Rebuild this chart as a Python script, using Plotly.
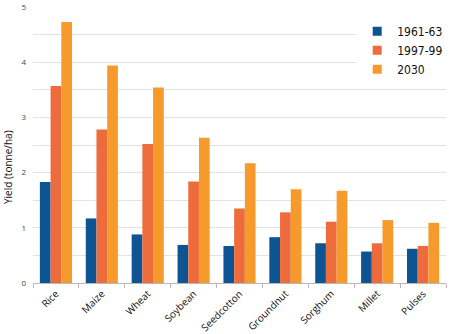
import plotly.graph_objects as go

categories = ["Rice", "Maize", "Wheat", "Soybean", "Seedcotton", "Groundnut", "Sorghum", "Millet", "Pulses"]
series_names = ["1961-63", "1997-99", "2030"]
y1961 = [1.83, 1.17, 0.88, 0.69, 0.67, 0.83, 0.72, 0.57, 0.62]
y1997 = [3.57, 2.78, 2.52, 1.84, 1.35, 1.28, 1.11, 0.72, 0.67]
y2030 = [4.73, 3.94, 3.54, 2.63, 2.17, 1.70, 1.67, 1.14, 1.09]
colors = ["#0D5592", "#EE6B3B", "#F69A2C"]
y_ticks = [0, 1, 2, 3, 4, 5]

fig = go.Figure()
for name, vals, col in zip(series_names, [y1961, y1997, y2030], colors):
    fig.add_trace(go.Bar(x=categories, y=vals, name=name, marker_color=col,
                         marker_line_width=0, showlegend=False, legendgroup=name))
# legend entries with small square swatches
for name, col in zip(series_names, colors):
    fig.add_trace(go.Scatter(x=[None], y=[None], mode="markers", name=name,
                             legendgroup=name,
                             marker=dict(symbol="square", size=9, color=col)))

fig.update_layout(
    width=450, height=334,
    margin=dict(l=33, r=2, t=7, b=51),
    paper_bgcolor="white", plot_bgcolor="white",
    barmode="group", bargap=0.3, bargroupgap=0,
    font=dict(family="Open Sans, Roboto, sans-serif", size=9, color="#222"),
    legend=dict(x=0.785, y=0.965, xanchor="left", yanchor="top",
                bgcolor="white",
                font=dict(family="Liberation Sans Narrow, DejaVu Sans Condensed, sans-serif", size=12, color="#111"),
                itemwidth=30, tracegroupgap=0),
    showlegend=True,
)
fig.update_yaxes(range=[0, 5], tickvals=y_ticks, ticktext=[str(v) for v in y_ticks],
                 showgrid=True, gridcolor="#e2e2e2", gridwidth=1,
                 minor=dict(dtick=0.5, showgrid=True, gridcolor="#e2e2e2"),
                 zeroline=False, showline=False, automargin=False,
                 tickfont=dict(size=8, color="#444"), ticklabelstandoff=6)
fig.update_xaxes(showline=True, linecolor="#b8b8b8", linewidth=1, automargin=False,
                 ticks="outside", tickson="boundaries", ticklen=4, tickcolor="#b8b8b8",
                 tickangle=-45, tickfont=dict(size=10, color="#111"))
fig.add_annotation(text="Yield (tonne/ha)", x=0, xref="paper", xanchor="left", xshift=-34,
                   y=0.42, yref="paper", yanchor="middle",
                   showarrow=False, textangle=-90, font=dict(size=10, color="#111"))
fig.write_html("out.html")
